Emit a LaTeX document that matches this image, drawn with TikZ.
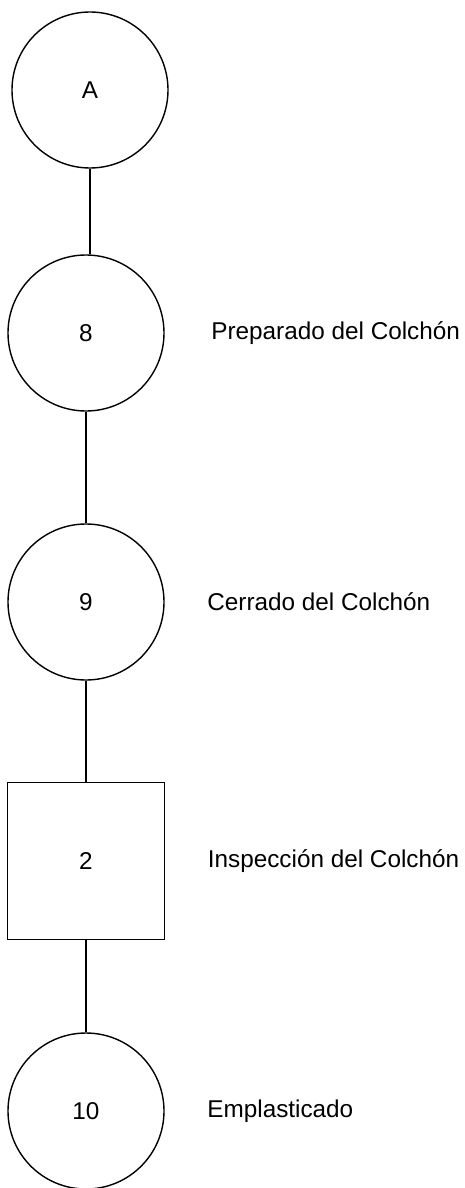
\documentclass[tikz,border=0pt]{standalone}
\usepackage{fontspec}
\setmainfont{Liberation Sans}
\usetikzlibrary{positioning}

\begin{document}
\begin{tikzpicture}[x=1pt, y=-1pt, line width=1.4pt]
	\tikzstyle{oper} = [draw, circle, minimum size=156pt, inner sep=0pt, font=\fontsize{24.3}{29}\selectfont]
	\tikzstyle{insp} = [draw, rectangle, minimum size=157pt, inner sep=0pt, font=\fontsize{24.3}{29}\selectfont]
	\tikzstyle{desc} = [inner sep=0pt, font=\fontsize{24.3}{29}\selectfont]

	\useasboundingbox (0,0) rectangle (465,1188);

	\node [oper] (conn) at (90,90) {A};
	\node [oper] (op8) at (86,333) {8};
	\node [oper, below of=op8, node distance=269pt] (op9) {9};
	\node [insp, below of=op9, node distance=259pt] (in2) {2};
	\node [oper, below of=in2, node distance=250pt] (op10) {10};

	\node [desc, right=46pt of op8] (txt8) {Preparado del Colchón};
	\node [desc, right=42pt of op9] (txt9) {Cerrado del Colchón};
	\node [desc, right=42pt of in2] (txt2) {Inspección del Colchón};
	\node [desc, right=42pt of op10] (txt10) {Emplasticado};

	\draw (conn) -- (conn |- op8.north);
	\draw (op8) -- (op9);
	\draw (op9) -- (in2);
	\draw (in2) -- (op10);
\end{tikzpicture}
\end{document}
